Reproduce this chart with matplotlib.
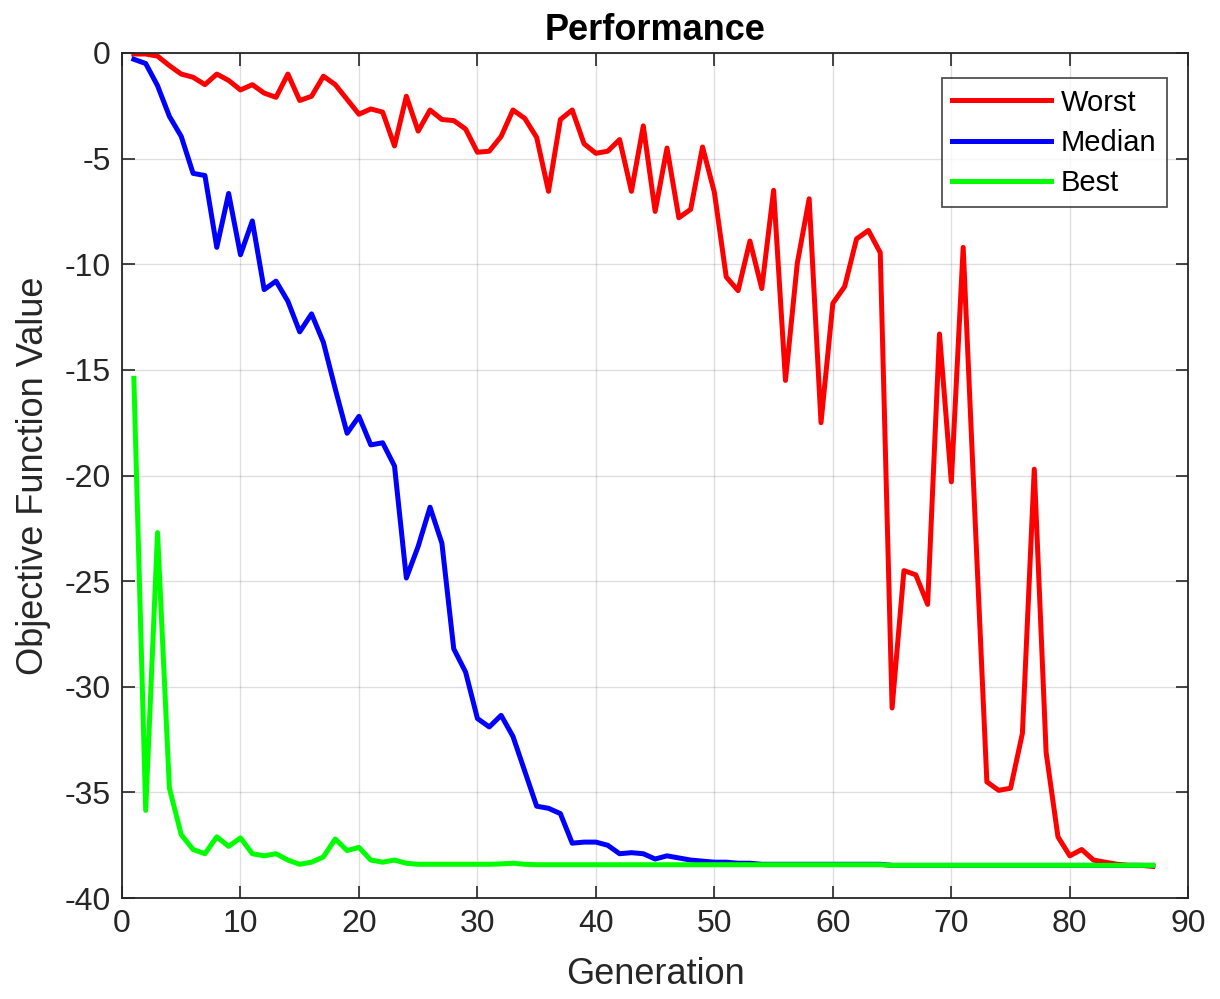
import numpy as np
import matplotlib
matplotlib.use('Agg')
import matplotlib.pyplot as plt

# ========== data ==========
generation = np.arange(1, 88)

worst = [-0.05, -0.05, -0.15, -0.6, -1.0, -1.15, -1.5, -1.0, -1.3, -1.75,
         -1.5, -1.9, -2.1, -1.0, -2.25, -2.05, -1.1, -1.5, -2.2, -2.9,
         -2.65, -2.8, -4.4, -2.05, -3.7, -2.7, -3.15, -3.2, -3.6, -4.7,
         -4.65, -3.95, -2.7, -3.1, -4.0, -6.55, -3.15, -2.7, -4.3, -4.75,
         -4.65, -4.1, -6.55, -3.45, -7.5, -4.5, -7.8, -7.4, -4.45, -6.6,
         -10.6, -11.25, -8.9, -11.15, -6.5, -15.5, -9.95, -6.9, -17.5, -11.85,
         -11.05, -8.8, -8.4, -9.45, -31.0, -24.5, -24.7, -26.1, -13.3, -20.3,
         -9.2, -22.0, -34.5, -34.9, -34.8, -32.2, -19.7, -33.1, -37.1, -38.0,
         -37.7, -38.2, -38.3, -38.4, -38.45, -38.45, -38.5]

median = [-0.3, -0.5, -1.55, -3.0, -3.95, -5.7, -5.8, -9.2, -6.65, -9.55,
          -7.95, -11.2, -10.8, -11.75, -13.2, -12.35, -13.7, -15.9, -18.0, -17.2,
          -18.55, -18.45, -19.55, -24.85, -23.35, -21.5, -23.2, -28.2, -29.3, -31.5,
          -31.9, -31.35, -32.35, -34.0, -35.65, -35.75, -36.0, -37.4, -37.35, -37.35,
          -37.5, -37.9, -37.85, -37.9, -38.15, -38.0, -38.1, -38.2, -38.25, -38.3,
          -38.3, -38.35, -38.35, -38.4, -38.4, -38.4, -38.4, -38.4, -38.4, -38.4,
          -38.4, -38.4, -38.4, -38.4, -38.45, -38.45, -38.45, -38.45, -38.45, -38.45,
          -38.45, -38.45, -38.45, -38.45, -38.45, -38.45, -38.45, -38.45, -38.45, -38.45,
          -38.45, -38.45, -38.45, -38.45, -38.45, -38.45, -38.45]

best = [-15.4, -35.85, -22.7, -34.8, -37.0, -37.7, -37.9, -37.1, -37.55, -37.15,
        -37.9, -38.0, -37.9, -38.2, -38.4, -38.3, -38.05, -37.2, -37.75, -37.6,
        -38.2, -38.3, -38.2, -38.35, -38.4, -38.4, -38.4, -38.4, -38.4, -38.4,
        -38.4, -38.38, -38.35, -38.4, -38.42, -38.42, -38.42, -38.42, -38.42, -38.42,
        -38.42, -38.42, -38.42, -38.42, -38.42, -38.42, -38.42, -38.42, -38.42, -38.42,
        -38.42, -38.42, -38.42, -38.42, -38.42, -38.42, -38.42, -38.42, -38.42, -38.42,
        -38.42, -38.42, -38.42, -38.42, -38.45, -38.45, -38.45, -38.45, -38.45, -38.45,
        -38.45, -38.45, -38.45, -38.45, -38.45, -38.45, -38.45, -38.45, -38.45, -38.45,
        -38.45, -38.45, -38.45, -38.45, -38.45, -38.45, -38.45]

series_names = ['Worst', 'Median', 'Best']
series_colors = ['#ff0000', '#0000ff', '#00ff00']

x_ticks = list(range(0, 91, 10))
y_ticks = list(range(-40, 1, 5))

# ========== style ==========
plt.rcParams['font.family'] = ['Liberation Sans', 'DejaVu Sans']
plt.rcParams['axes.unicode_minus'] = False
axis_color = '#262626'

fig = plt.figure(figsize=(12.2, 9.99), dpi=100)
ax = fig.add_axes([0.1, 0.101, 0.874, 0.846])

for vals, name, col in zip([worst, median, best], series_names, series_colors):
    ax.plot(generation, vals, color=col, linewidth=3.6, label=name)

ax.set_xlim(0, 90)
ax.set_ylim(-40, 0)
ax.set_xticks(x_ticks)
ax.set_yticks(y_ticks)
ax.grid(True, color='#000000', alpha=0.13, linewidth=1.0)
ax.set_axisbelow(True)

ax.tick_params(direction='in', length=9, width=1.2, top=True, right=True,
               labelsize=23, colors=axis_color, pad=8)
for sp in ax.spines.values():
    sp.set_color(axis_color)
    sp.set_linewidth(1.3)

ax.set_title('Performance', fontsize=26, fontweight='bold', color='black', pad=9)
ax.set_xlabel('Generation', fontsize=26, color=axis_color, labelpad=13)
ax.set_ylabel('Objective Function Value', fontsize=26, color=axis_color, labelpad=10)

leg = ax.legend(loc='upper right', bbox_to_anchor=(0.98, 0.97), fontsize=21,
                frameon=True, fancybox=False, edgecolor=axis_color,
                handlelength=3.4, handletextpad=0.35, borderpad=0.35,
                labelspacing=0.42, borderaxespad=0.0)
leg.get_frame().set_linewidth(1.3)

plt.savefig('out.png', dpi=100)
plt.close()
